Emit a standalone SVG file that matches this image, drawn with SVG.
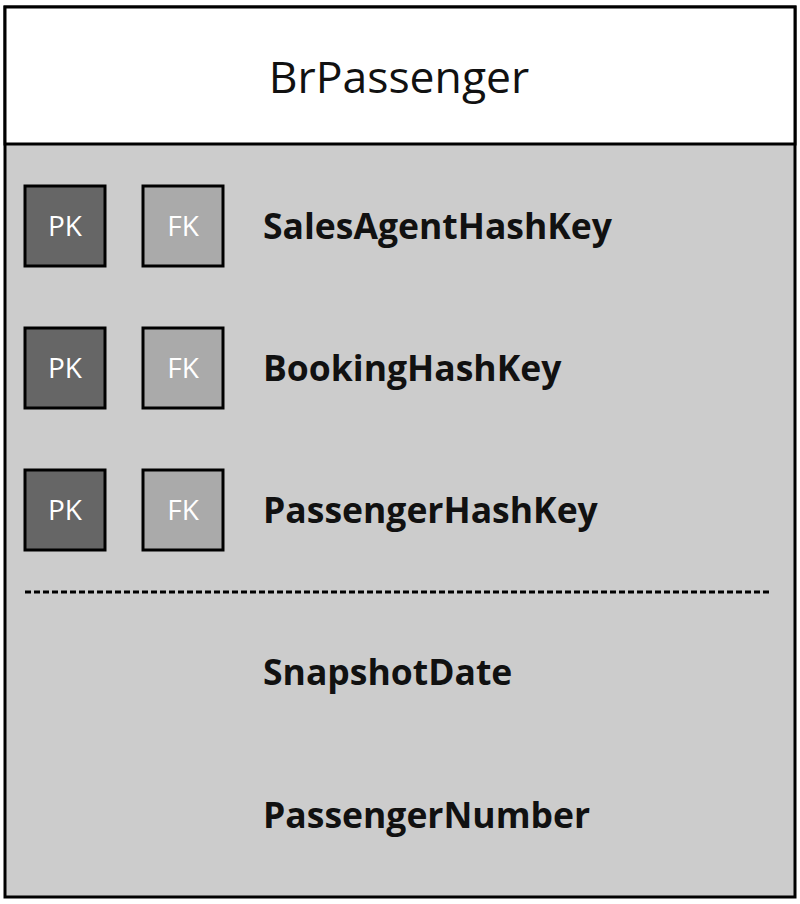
<svg xmlns="http://www.w3.org/2000/svg" width="800" height="904" viewBox="0 0 800 904">
<style>
.key{stroke:#000;stroke-width:3}
.pk{fill:#666666}
.fk{fill:#aaaaaa}
.kt{font-family:"Open Sans","Liberation Sans",sans-serif;font-size:28px;fill:#fff;text-anchor:middle}
.ft{font-family:"Open Sans","Liberation Sans",sans-serif;font-size:35.5px;font-weight:bold;fill:#111}
</style>
<rect width="800" height="904" fill="#ffffff"/>
<g id="table">
<rect x="5" y="7" width="790" height="890" fill="#cccccc" stroke="#000" stroke-width="3"/>
<rect x="5" y="7" width="790" height="137" fill="#ffffff" stroke="#000" stroke-width="3"/>
<text x="399" y="93" font-family="Open Sans, Liberation Sans, sans-serif" font-size="44.5" text-anchor="middle" fill="#111">BrPassenger</text>
</g>
<g id="row1">
<rect class="key pk" x="25" y="186" width="80" height="80"/>
<text class="kt" x="65" y="236">PK</text>
<rect class="key fk" x="143" y="186" width="80" height="80"/>
<text class="kt" x="183" y="236">FK</text>
<text class="ft" x="263" y="239">SalesAgentHashKey</text>
</g>
<g id="row2">
<rect class="key pk" x="25" y="328" width="80" height="80"/>
<text class="kt" x="65" y="378">PK</text>
<rect class="key fk" x="143" y="328" width="80" height="80"/>
<text class="kt" x="183" y="378">FK</text>
<text class="ft" x="263" y="381">BookingHashKey</text>
</g>
<g id="row3">
<rect class="key pk" x="25" y="470" width="80" height="80"/>
<text class="kt" x="65" y="520">PK</text>
<rect class="key fk" x="143" y="470" width="80" height="80"/>
<text class="kt" x="183" y="520">FK</text>
<text class="ft" x="263" y="523">PassengerHashKey</text>
</g>
<g id="connectors">
<line x1="25" y1="592" x2="772" y2="592" stroke="#000" stroke-width="3" stroke-dasharray="6,3"/>
</g>
<g id="row4">
<text class="ft" x="263" y="685">SnapshotDate</text>
</g>
<g id="row5">
<text class="ft" x="263" y="828">PassengerNumber</text>
</g>
</svg>
